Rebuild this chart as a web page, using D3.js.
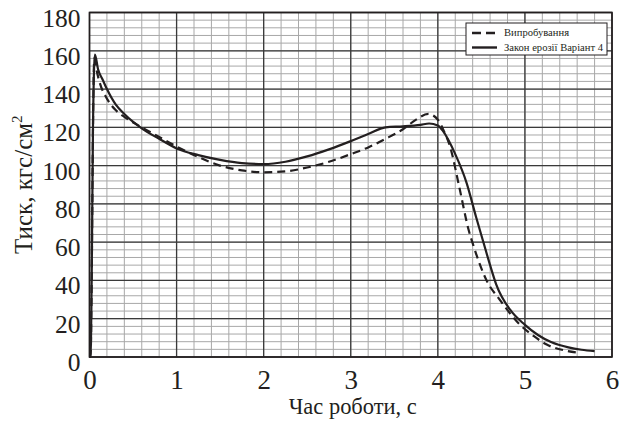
<!DOCTYPE html>
<html><head><meta charset="utf-8">
<script src="https://cdn.jsdelivr.net/npm/d3@7"></script>
<style>body{margin:0;background:#fff}svg{display:block}</style>
</head><body>
<script>
const xTicks = [0,1,2,3,4,5,6];
const yTicks = [0,20,40,60,80,100,120,140,160,180];
const seriesNames = ["Випробування", "Закон ерозії Варіант 4"];
const testT = [0,0.012,0.025,0.04,0.055,0.08,0.12,0.2,0.3,0.4,0.6,0.8,1.0,1.25,1.5,1.75,2.0,2.25,2.5,2.75,3.0,3.2,3.4,3.6,3.75,3.89,4.0,4.07,4.14,4.25,4.35,4.41,4.56,4.71,4.94,5.1,5.25,5.45,5.62];
const testV = [0,0,40,120,156,150,143,135,129,125.5,120,115,110,104.5,100,97.5,96.5,97,99,102,106,109.5,114,119,124,127,124,118,110,88,67,58,40,30,17,11,6.5,3.5,2.2];
const modelT = [0,0.012,0.025,0.04,0.062,0.1,0.15,0.2,0.3,0.4,0.6,0.8,1.0,1.25,1.5,1.75,2.0,2.25,2.5,2.75,3.0,3.2,3.4,3.6,3.8,3.9,4.0,4.06,4.2,4.33,4.44,4.52,4.6,4.67,4.83,5.0,5.15,5.3,5.5,5.65,5.8];
const modelV = [0,0,40,120,158,150,145,140,132,127,119.5,114,109,105.5,103,101.3,100.8,102,104.8,108.5,112.8,116.5,120,120.5,121.3,122,121,118,106,91,73,60.5,48,38,24.7,16.8,11.5,7.8,5,3.8,3.1];
const xLabel = "Час роботи, с";
const yLabel = "Тиск, кгс/см";

const FONT = "'Liberation Serif', 'Times New Roman', Times, 'DejaVu Serif', serif";
const W = 621, H = 429;
const m = {l:89.5, r:612, t:12.5, b:357};
const svg = d3.select("body").append("svg").attr("width",W).attr("height",H).attr("font-family",FONT);
const x = d3.scaleLinear().domain([0,6]).range([m.l,m.r]);
const y = d3.scaleLinear().domain([0,180]).range([m.b,m.t]);

const g = svg.append("g");
const minorX = d3.range(0,6.0001,0.2).map(v=>+v.toFixed(2));
const minorY = d3.range(0,180.001,4);
g.selectAll(".mx").data(minorX).join("line").attr("x1",d=>x(d)).attr("x2",d=>x(d)).attr("y1",m.t).attr("y2",m.b).attr("stroke","#a8a8a8").attr("stroke-width",1);
g.selectAll(".my").data(minorY).join("line").attr("y1",d=>y(d)).attr("y2",d=>y(d)).attr("x1",m.l).attr("x2",m.r).attr("stroke","#a8a8a8").attr("stroke-width",1);
g.selectAll(".Mx").data(xTicks).join("line").attr("x1",d=>x(d)).attr("x2",d=>x(d)).attr("y1",m.t).attr("y2",m.b).attr("stroke","#3a3a3a").attr("stroke-width",1.3);
g.selectAll(".My").data(yTicks).join("line").attr("y1",d=>y(d)).attr("y2",d=>y(d)).attr("x1",m.l).attr("x2",m.r).attr("stroke","#3a3a3a").attr("stroke-width",1.3);
g.append("rect").attr("x",m.l).attr("y",m.t).attr("width",m.r-m.l).attr("height",m.b-m.t).attr("fill","none").attr("stroke","#231f20").attr("stroke-width",1.6);

const xAxis = svg.append("g").attr("transform",`translate(0,${m.b})`).call(d3.axisBottom(x).tickValues(xTicks).tickSize(0).tickPadding(13).tickFormat(d3.format("d")));
xAxis.attr("font-family",FONT).attr("font-size",27);
xAxis.select(".domain").remove();
xAxis.selectAll("text").attr("font-family",FONT).attr("font-size",27).attr("fill","#231f20");
const yAxis = svg.append("g").attr("transform",`translate(${m.l},0)`).call(d3.axisLeft(y).tickValues(yTicks).tickSize(0).tickPadding(9).tickFormat(d3.format("d")));
yAxis.attr("font-family",FONT).attr("font-size",25.5);
yAxis.select(".domain").remove();
yAxis.selectAll("text").attr("font-family",FONT).attr("font-size",25.5).attr("dy","0.53em").attr("fill","#231f20");

svg.append("text").attr("x",(m.l+m.r)/2 + 2).attr("y",414).attr("text-anchor","middle").attr("font-family",FONT).attr("font-size",24).attr("textLength",128).attr("lengthAdjust","spacingAndGlyphs").attr("fill","#231f20").text(xLabel);
const yl = svg.append("text").attr("transform",`translate(32,${(m.t+m.b)/2}) rotate(-90)`).attr("text-anchor","middle").attr("font-family",FONT).attr("font-size",25).attr("fill","#231f20");
yl.append("tspan").text(yLabel);
yl.append("tspan").attr("font-size",15).attr("dy",-10).text("2");

const line = d3.line().x(d=>x(d[0])).y(d=>y(d[1])).curve(d3.curveMonotoneX);
const testData = testT.map((t,i)=>[t,testV[i]]);
const modelData = modelT.map((t,i)=>[t,modelV[i]]);
svg.append("path").datum(modelData).attr("d",line).attr("fill","none").attr("stroke","#231f20").attr("stroke-width",2.2);
svg.append("path").datum(testData).attr("d",line).attr("fill","none").attr("stroke","#231f20").attr("stroke-width",2.2).attr("stroke-dasharray","8,5");

const lg = svg.append("g");
lg.append("rect").attr("x",466).attr("y",23).attr("width",141).attr("height",32).attr("fill","#fff").attr("stroke","#231f20").attr("stroke-width",1);
lg.append("line").attr("x1",472).attr("x2",497).attr("y1",33).attr("y2",33).attr("stroke","#231f20").attr("stroke-width",2.4).attr("stroke-dasharray","9,5");
lg.append("line").attr("x1",472).attr("x2",497).attr("y1",47.5).attr("y2",47.5).attr("stroke","#231f20").attr("stroke-width",2.4);
lg.append("text").attr("x",504).attr("y",35.5).attr("font-family",FONT).attr("font-size",10.5).attr("textLength",65).attr("lengthAdjust","spacingAndGlyphs").attr("fill","#231f20").text(seriesNames[0]);
lg.append("text").attr("x",504).attr("y",50.5).attr("font-family",FONT).attr("font-size",10.5).attr("textLength",99).attr("lengthAdjust","spacingAndGlyphs").attr("fill","#231f20").text(seriesNames[1]);
</script>
</body></html>
